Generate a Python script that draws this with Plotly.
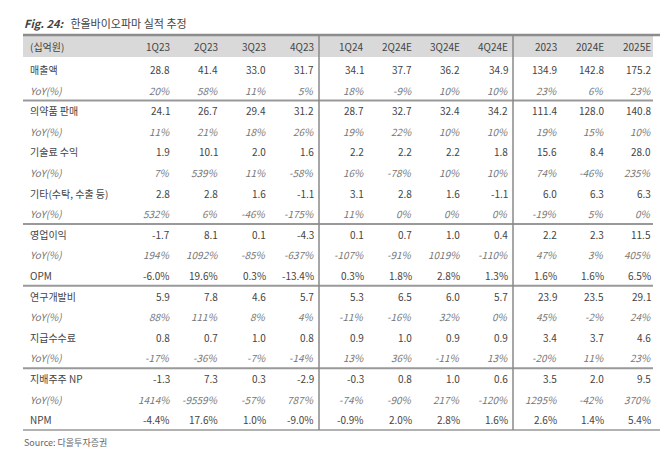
import plotly.graph_objects as go

columns = ["1Q23","2Q23","3Q23","4Q23","1Q24","2Q24E","3Q24E","4Q24E","2023","2024E","2025E"]
row_labels = ["매출액","YoY(%)","의약품 판매","YoY(%)","기술료 수익","YoY(%)","기타(수탁, 수출 등)","YoY(%)",
              "영업이익","YoY(%)","OPM","연구개발비","YoY(%)","지급수수료","YoY(%)","지배주주 NP","YoY(%)","NPM"]
sales = ["28.8","41.4","33.0","31.7","34.1","37.7","36.2","34.9","134.9","142.8","175.2"]
sales_yoy = ["20%","58%","11%","5%","18%","-9%","10%","10%","23%","6%","23%"]
drug = ["24.1","26.7","29.4","31.2","28.7","32.7","32.4","34.2","111.4","128.0","140.8"]
drug_yoy = ["11%","21%","18%","26%","19%","22%","10%","10%","19%","15%","10%"]
tech = ["1.9","10.1","2.0","1.6","2.2","2.2","2.2","1.8","15.6","8.4","28.0"]
tech_yoy = ["7%","539%","11%","-58%","16%","-78%","10%","10%","74%","-46%","235%"]
other = ["2.8","2.8","1.6","-1.1","3.1","2.8","1.6","-1.1","6.0","6.3","6.3"]
other_yoy = ["532%","6%","-46%","-175%","11%","0%","0%","0%","-19%","5%","0%"]
op = ["-1.7","8.1","0.1","-4.3","0.1","0.7","1.0","0.4","2.2","2.3","11.5"]
op_yoy = ["194%","1092%","-85%","-637%","-107%","-91%","1019%","-110%","47%","3%","405%"]
opm = ["-6.0%","19.6%","0.3%","-13.4%","0.3%","1.8%","2.8%","1.3%","1.6%","1.6%","6.5%"]
rnd = ["5.9","7.8","4.6","5.7","5.3","6.5","6.0","5.7","23.9","23.5","29.1"]
rnd_yoy = ["88%","111%","8%","4%","-11%","-16%","32%","0%","45%","-2%","24%"]
fee = ["0.8","0.7","1.0","0.8","0.9","1.0","0.9","0.9","3.4","3.7","4.6"]
fee_yoy = ["-17%","-36%","-7%","-14%","13%","36%","-11%","13%","-20%","11%","23%"]
np_ = ["-1.3","7.3","0.3","-2.9","-0.3","0.8","1.0","0.6","3.5","2.0","9.5"]
np_yoy = ["1414%","-9559%","-57%","787%","-74%","-90%","217%","-120%","1295%","-42%","370%"]
npm = ["-4.4%","17.6%","1.0%","-9.0%","-0.9%","2.0%","2.8%","1.6%","2.6%","1.4%","5.4%"]
rows = [sales,sales_yoy,drug,drug_yoy,tech,tech_yoy,other,other_yoy,op,op_yoy,opm,
        rnd,rnd_yoy,fee,fee_yoy,np_,np_yoy,npm]

col_x = [164,212,260,308,358,406,454,502,551,598,645]
row0_y, row_h = 61.5, 20.6
header_y = 38
FONT = "Noto Sans CJK KR"

fig = go.Figure()
ann = []
shapes = []
# header band
shapes.append(dict(type="rect", x0=15, x1=645, y0=27, y1=49, fillcolor="#d9d9d9", line_width=0, layer="below"))
shapes.append(dict(type="line", x0=15, x1=652, y0=27, y1=27, line=dict(color="#8c8c8c", width=2.5)))
ann.append(dict(x=20, y=header_y, text="(십억원)", xanchor="left"))
for c, x in zip(columns, col_x):
    ann.append(dict(x=x, y=header_y, text=c, xanchor="right"))
for i, (lab, vals) in enumerate(zip(row_labels, rows)):
    y = row0_y + i*row_h
    italic = lab == "YoY(%)"
    col = "#777" if italic else "#444"
    t = f"<i>{lab}</i>" if italic else lab
    ann.append(dict(x=20, y=y, text=t, xanchor="left", font=dict(color=col)))
    for v, x in zip(vals, col_x):
        ann.append(dict(x=x, y=y, text=f"<i>{v}</i>" if italic else v, xanchor="right", font=dict(color=col)))
for after in [1, 7, 10, 14]:
    yl = row0_y + (after+0.5)*row_h
    shapes.append(dict(type="line", x0=15, x1=645, y0=yl, y1=yl, line=dict(color="#999", width=2)))
bottom = row0_y + 17.5*row_h
shapes.append(dict(type="line", x0=15, x1=652, y0=bottom, y1=bottom, line=dict(color="#999", width=1.5)))
for xv in [311, 505]:
    shapes.append(dict(type="line", x0=xv, x1=xv, y0=27, y1=bottom, line=dict(color="#888", width=1.5)))

for a in ann:
    a.setdefault("font", dict(color="#444"))
    a["font"].setdefault("size", 10)
    a["font"]["family"] = FONT
    a.update(xref="x", yref="y", showarrow=False, yanchor="middle")

ann.append(dict(x=14, y=15, xref="x", yref="y", showarrow=False, xanchor="left", yanchor="middle",
                text="<b><i>Fig. 24:</i></b>   한올바이오파마 실적 추정", font=dict(family=FONT, size=11, color="#444")))
ann.append(dict(x=14, y=434, xref="x", yref="y", showarrow=False, xanchor="left", yanchor="middle",
                text="Source: 다올투자증권", font=dict(family=FONT, size=9, color="#666")))

fig.update_layout(width=670, height=451, margin=dict(l=0, r=0, t=0, b=0),
                  plot_bgcolor="white", paper_bgcolor="white", annotations=ann, shapes=shapes,
                  xaxis=dict(range=[0, 670], visible=False), yaxis=dict(range=[451, 0], visible=False),
                  showlegend=False)
fig.write_html("out.html")
